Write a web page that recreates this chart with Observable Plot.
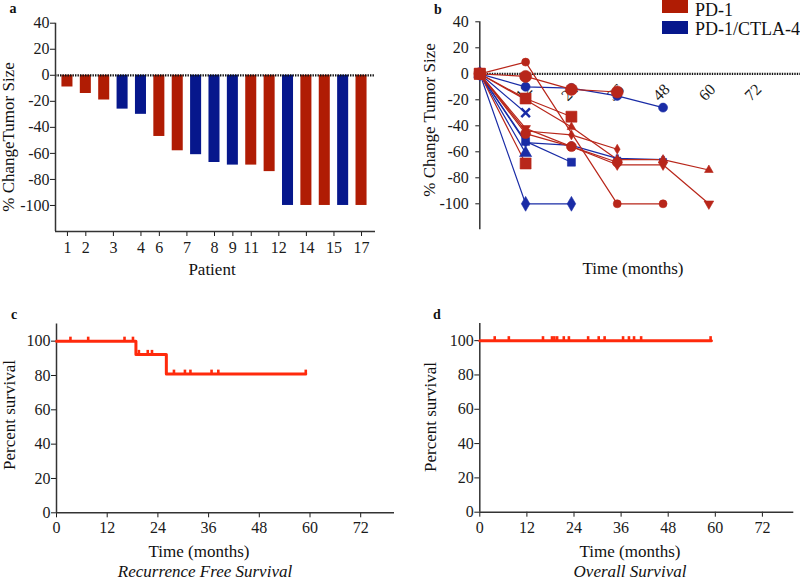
<!DOCTYPE html>
<html>
<head>
<meta charset="utf-8">
<script src="https://cdn.jsdelivr.net/npm/d3@7"></script>
<script src="https://cdn.jsdelivr.net/npm/@observablehq/plot@0.6"></script>
<style>
  body { margin: 0; background: #fff; }
  #root { position: relative; width: 800px; height: 580px; overflow: hidden; background: #fff;
          font-family: "Liberation Serif", "Times New Roman", serif; color: #111; }
  .p { position: absolute; }
  .lbl { position: absolute; white-space: nowrap; line-height: 1; color: #111; }
  .sw { position: absolute; }
</style>
</head>
<body>
<div id="root"></div>
<script>
// ---------------- DATA ----------------
// Panel a: best % change in tumor size per patient (waterfall)
const aValues = [-9, -14, -19, -26, -30, -47, -58, -61, -67, -69, -69, -74, -100, -100, -100, -100, -100];
const aGroups = ["PD-1", "PD-1", "PD-1", "PD-1/CTLA-4", "PD-1/CTLA-4", "PD-1", "PD-1", "PD-1/CTLA-4",
                 "PD-1/CTLA-4", "PD-1/CTLA-4", "PD-1", "PD-1", "PD-1/CTLA-4", "PD-1", "PD-1", "PD-1/CTLA-4", "PD-1"];
const aTickPos = [1, 2, 3.5, 5, 6, 7.5, 9, 10, 11, 12.5, 14, 15.5, 17];
const aTickLabels = ["1", "2", "3", "4", "6", "7", "8", "9", "11", "12", "14", "15", "17"];
const yTicksTumor = [-100, -80, -60, -40, -20, 0, 20, 40];

// Panel b: % change in tumor size over time, per patient
const bGroup = ["PD-1/CTLA-4", "PD-1/CTLA-4", "PD-1/CTLA-4", "PD-1/CTLA-4", "PD-1/CTLA-4", "PD-1/CTLA-4",
                "PD-1", "PD-1", "PD-1", "PD-1", "PD-1", "PD-1", "PD-1", "PD-1"];
const bSymbol = ["circle", "times", "square", "cross", "triangle", "diamond",
                 "circle", "diamond", "triangle", "triangle", "circle", "circle", "square", "square"];
const bDown   = [false, false, false, false, false, false, false, false, false, true, false, false, false, false];
const bSize   = [4.5, 4, 4.5, 3, 4.5, 4.5, 4, 3, 3.2, 3.6, 5, 6, 6.2, 6.2];
const bTimes = [
  [0, 12, 24, 36, 48], [0, 12], [0, 12, 24], [0, 12, 24, 36, 48], [0, 12], [0, 12, 24],
  [0, 12, 36, 48], [0, 12, 24, 36], [0, 12, 24, 36, 48, 60], [0, 12, 36, 48, 60],
  [0, 12, 24, 36], [0, 12, 24, 36], [0, 12, 24], [0, 12]
];
const bValues = [
  [0, -10, -11, -17, -26], [0, -30], [0, -52, -68], [0, -53, -55, -65, -66], [0, -61], [0, -100, -100],
  [0, 9, -100, -100], [0, -44, -47, -58], [0, -20, -41, -66, -66, -74], [0, -42, -70, -70, -100],
  [0, -46, -56, -68], [0, -2, -12, -14], [0, -19, -33], [0, -69]
];
const bXTicks = [12, 24, 36, 48, 60, 72];

// Panel c: recurrence free survival (Kaplan-Meier)
const rfsTimes = [0, 18.8, 26, 59];
const rfsSurv  = [100, 92.3, 80.8, 80.8];
const rfsCensor = [3.3, 7.5, 16.1, 18.1, 19.5, 21.6, 22.6, 27.8, 30.4, 31.7, 36.7, 38.3, 59];

// Panel d: overall survival
const osTimes = [0, 59];
const osSurv  = [100, 100];
const osCensor = [3.8, 7.4, 16.1, 18.4, 19.0, 19.7, 21.4, 22.7, 27.6, 30.3, 31.8, 36.5, 38.0, 39.3, 41.1, 58.8];

const kmXTicks = [0, 12, 24, 36, 48, 60, 72];
const kmYTicks = [0, 20, 40, 60, 80, 100];

// ---------------- STYLE ----------------
const FONT = '"Liberation Serif", "Times New Roman", serif';
const RED = "#B01C04", BLUE = "#06178C";
const LRED = "#B8261A", LBLUE = "#1A2CA6";
const KM = "#FF2A0C";
const groups = ["PD-1", "PD-1/CTLA-4"];
const baseStyle = {fontFamily: FONT, fontSize: "16px", color: "#1a1a1a", background: "transparent", overflow: "visible"};
const fmt = d => String(d);

const root = document.getElementById("root");
function place(el, left, top) {
  const d = document.createElement("div");
  d.className = "p"; d.style.left = left + "px"; d.style.top = top + "px";
  d.appendChild(el); root.appendChild(d);
}
function label(text, x, y, {size = 17, rotate = 0, italic = false, bold = false} = {}) {
  const d = document.createElement("div");
  d.className = "lbl"; d.textContent = text;
  d.style.left = x + "px"; d.style.top = y + "px"; d.style.fontSize = size + "px";
  if (italic) d.style.fontStyle = "italic";
  if (bold) d.style.fontWeight = "bold";
  d.style.transform = `translate(-50%,-50%) rotate(${rotate}deg)`;
  root.appendChild(d);
}

// ---------------- PANEL A ----------------
const aXDomain = [0.35, 17.76], aYDomain = [-120, 40];
const barData = aValues.map((v, i) => ({i: i + 1, v, g: aGroups[i]}));
const plotA = Plot.plot({
  width: 400, height: 290, marginLeft: 55, marginRight: 25, marginTop: 22.7, marginBottom: 59,
  style: baseStyle,
  x: {domain: aXDomain, ticks: aTickPos, tickFormat: d => aTickLabels[aTickPos.indexOf(d)], tickSize: 5, tickPadding: 5, label: null},
  y: {domain: aYDomain, ticks: yTicksTumor, tickFormat: fmt, tickSize: 5, tickPadding: 1, label: null},
  color: {domain: groups, range: [RED, BLUE]},
  marks: [
    Plot.rectY(barData, {x1: d => d.i - 0.3, x2: d => d.i + 0.3, y: "v", fill: "g"}),
    Plot.ruleY([0], {stroke: "#111", strokeWidth: 2.2, strokeDasharray: "1.4,1.1"}),
    Plot.ruleX([aXDomain[0]], {stroke: "#333", strokeWidth: 1.5}),
    Plot.ruleY([aYDomain[0]], {stroke: "#333", strokeWidth: 1.5})
  ]
});
place(plotA, 0, 0);

// ---------------- PANEL B ----------------
const bXDomain = [0, 84];
const bMarks = [
  Plot.ruleX([0], {stroke: "#333", strokeWidth: 1.5}),
  Plot.ruleY([0], {stroke: "#111", strokeWidth: 2.2, strokeDasharray: "1.4,1.1"}),
  Plot.text(bXTicks, {x: d => d, y: d => 0, text: fmt, rotate: -45, textAnchor: "end", dx: 4, dy: 13, fontSize: 16, fill: "#1a1a1a"})
];
const seriesPts = bTimes.map((ts, s) => ts.map((t, k) => ({s, t, v: bValues[s][k], g: bGroup[s]})));
seriesPts.forEach((pts, s) => {
  bMarks.push(Plot.line(pts, {x: "t", y: "v", stroke: bGroup[s] === "PD-1" ? LRED : LBLUE, strokeWidth: 1.2}));
});
seriesPts.forEach((pts, s) => {
  const col = bGroup[s] === "PD-1" ? LRED : LBLUE;
  const isStroke = bSymbol[s] === "times";
  bMarks.push(Plot.dot(pts, {
    x: "t", y: "v", symbol: bSymbol[s], r: bSize[s],
    rotate: bDown[s] ? 180 : 0,
    fill: isStroke ? "none" : col, stroke: col, strokeWidth: isStroke ? 2.5 : 0.6
  }));
});
const plotB = Plot.plot({
  width: 400, height: 290, marginLeft: 79.3, marginRight: 0, marginTop: 21.3, marginBottom: 60.7,
  style: baseStyle,
  x: {domain: bXDomain, axis: null},
  y: {domain: [-120, 40], ticks: yTicksTumor, tickFormat: fmt, tickSize: 4, tickPadding: 7, label: null},
  marks: bMarks
});
place(plotB, 400, 0);

// ---------------- KM helper ----------------
function survAt(times, surv, t) {
  let s = surv[0];
  for (let i = 0; i < times.length; i++) if (times[i] <= t) s = surv[i];
  return s;
}
const censorSymbol = {
  draw(context, size) {
    const r = Math.sqrt(size / Math.PI);
    context.moveTo(0, 0);
    context.lineTo(0, -r);
  }
};
function kmPlot(times, surv, censor, marginLeft, marginRight, marginTop, marginBottom) {
  const pts = times.map((t, i) => ({t, s: surv[i]}));
  const cps = censor.map(t => ({t, s: survAt(times, surv, t)}));
  return Plot.plot({
    width: 400, height: 250, marginLeft, marginRight, marginTop, marginBottom,
    style: baseStyle,
    x: {domain: [0, 80], ticks: kmXTicks, tickFormat: fmt, tickSize: 5, tickPadding: 4, label: null},
    y: {domain: [0, 110], ticks: kmYTicks, tickFormat: fmt, tickSize: 5, tickPadding: 1, label: null},
    marks: [
      Plot.ruleX([0], {stroke: "#333", strokeWidth: 1.5}),
      Plot.ruleY([0], {stroke: "#333", strokeWidth: 1.5}),
      Plot.line(pts, {x: "t", y: "s", curve: "step-after", stroke: KM, strokeWidth: 3}),
      Plot.dot(cps, {x: "t", y: "s", symbol: censorSymbol, r: 4.5, fill: "none", stroke: KM, strokeWidth: 2.6})
    ]
  });
}
place(kmPlot(rfsTimes, rfsSurv, rfsCensor, 56, 6, 33.5, 27.7), 0, 290);
place(kmPlot(osTimes, osSurv, osCensor, 79.3, 6.7, 33, 28.3), 400, 290);

// ---------------- TEXT ----------------
label("a", 13, 9, {size: 14, bold: true});
label("b", 438, 10, {size: 14, bold: true});
label("c", 14, 315, {size: 14, bold: true});
label("d", 437, 315, {size: 14, bold: true});

label("% ChangeTumor Size", 8, 137, {rotate: -90});
label("Patient", 212, 269);
label("% Change Tumor Size", 429, 120, {rotate: -90});
label("Time (months)", 633, 268);

label("Percent survival", 9, 415, {rotate: -90});
label("Time (months)", 199, 551);
label("Recurrence Free Survival", 205, 570.5, {italic: true});
label("Percent survival", 430, 417, {rotate: -90});
label("Time (months)", 630, 551);
label("Overall Survival", 630, 570.5, {italic: true});

// Legend
[["PD-1", RED, 0, 9.5], ["PD-1/CTLA-4", BLUE, 21, 29]].forEach(([name, col, top, ty]) => {
  const sw = document.createElement("div");
  sw.className = "sw";
  sw.style.cssText = `left:662px;top:${top}px;width:26px;height:13px;background:${col};`;
  root.appendChild(sw);
  const t = document.createElement("div");
  t.className = "lbl"; t.textContent = name;
  t.style.cssText += `left:695px;top:${ty}px;font-size:18px;transform:translate(0,-50%);`;
  root.appendChild(t);
});
</script>
</body>
</html>
